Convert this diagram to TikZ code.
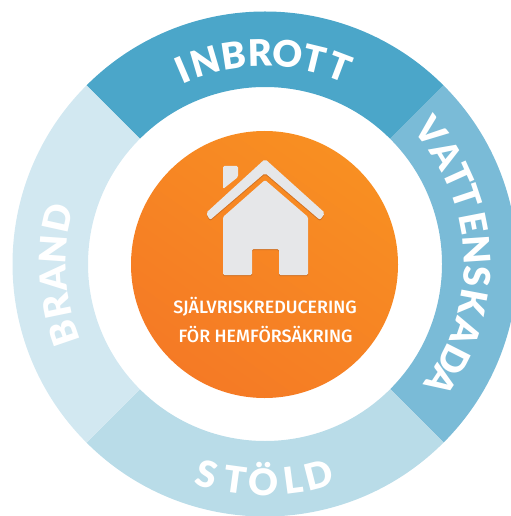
\documentclass[tikz,border=0pt]{standalone}
\usepackage{fontspec}
\setmainfont{Lato}
\newfontfamily\ringfont{Lato Black}
\newfontfamily\centerfont{Fira Sans Medium}
\definecolor{inbrottblue}{HTML}{4BA6C9}
\definecolor{vattenblue}{HTML}{7ABBD7}
\definecolor{stoldblue}{HTML}{B9DCE8}
\definecolor{brandblue}{HTML}{D2E8F1}
\definecolor{orangelight}{HTML}{F88F22}
\definecolor{orangedark}{HTML}{F57A25}
\definecolor{housegrey}{HTML}{E6E7E9}
\definecolor{houseshadow}{HTML}{D2701F}
\tikzset{
  ringletter/.style={text=white,font=\ringfont\fontsize{27.5}{27.5}\selectfont,inner sep=0pt,text height=19.8pt,text depth=0pt,anchor=center},
  centertext/.style={text=white,font=\centerfont\fontsize{13.4}{13.4}\selectfont,anchor=center,inner sep=0pt}
}
\newcommand{\ringpiece}[3]{\fill[#1] (265,264) ++(#2:252.5) arc (#2:#3:252.5) -- ++(#3:-75.5) arc (#3:#2:177) -- cycle;}

\begin{document}
\begin{tikzpicture}[x=0.75pt,y=0.75pt,yscale=-1,xscale=1]
	\useasboundingbox (0,0) rectangle (510,516);
	
	%Ring segments
	\ringpiece{inbrottblue}{-135}{-45}
	\ringpiece{vattenblue}{-45}{45}
	\ringpiece{stoldblue}{45}{135}
	\ringpiece{brandblue}{135}{225}
	
	%Orange disc
	\shade[bottom color=orangedark,top color=orangelight,shading angle=-35] (264.5,264.5) circle (133.5);
	
	%House shadow
	\begin{scope}[shift={(0,1.2)}]
		\fill[houseshadow,rounded corners=1.5pt] (265,159) -- (325,213) -- (320,220) -- (265,173) -- (210,220) -- (206,213) -- cycle;
		\fill[houseshadow,rounded corners=1pt] (265,180) -- (308,217) -- (308,275) -- (279,275) -- (279,249) -- (252,249) -- (252,275) -- (223,275) -- (223,217) -- cycle;
	\end{scope}
	
	%House
	\fill[housegrey,rounded corners=1pt] (223,166) -- (238,166) -- (238,177) -- (223,189) -- cycle;
	\fill[housegrey,rounded corners=1.5pt] (265,159) -- (325,213) -- (320,220) -- (265,173) -- (210,220) -- (206,213) -- cycle;
	\fill[housegrey,rounded corners=1pt] (265,180) -- (308,217) -- (308,275) -- (279,275) -- (279,249) -- (252,249) -- (252,275) -- (223,275) -- (223,217) -- cycle;
	
	%Ring letters, tops outward
	\foreach \ch/\ang [count=\i] in {I/113.1,N/106.5,B/98.6,R/91.3,O/83.7,T/76.4,T/69.2}
		\node[ringletter,rotate=\ang-90] (inbrott\i) at ({265+211*cos(\ang)},{264-211*sin(\ang)}) {\ch};
	\foreach \ch/\ang [count=\i] in {V/38.6,A/31,T/24.4,T/18.4,E/11,N/3.8,S/-3.4,K/-10.6,A/-18.8,D/-26.8,A/-33.5}
		\node[ringletter,rotate=\ang-90] (vatten\i) at ({265+212*cos(\ang)},{264-212*sin(\ang)}) {\ch};
	\foreach \ch/\ang [count=\i] in {B/198.9,R/191.6,A/183.8,N/176,D/167.6}
		\node[ringletter,rotate=\ang-90] (brand\i) at ({265+212*cos(\ang)},{264-212*sin(\ang)}) {\ch};
	
	%Ring letters, tops inward
	\foreach \ch/\ang [count=\i] in {S/254.6,T/262.3,Ö/269.5,L/277.5,D/284.4}
		\node[ringletter,rotate=\ang+90] (stold\i) at ({265+218*cos(\ang)},{264-218*sin(\ang)}) {\ch};
	
	%Text Nodes
	\node[centertext] (lineone) at (265,307) {SJÄLVRISKREDUCERING};
	\node[centertext] (linetwo) at (265.5,334) {FÖR HEMFÖRSÄKRING};
\end{tikzpicture}
\end{document}
